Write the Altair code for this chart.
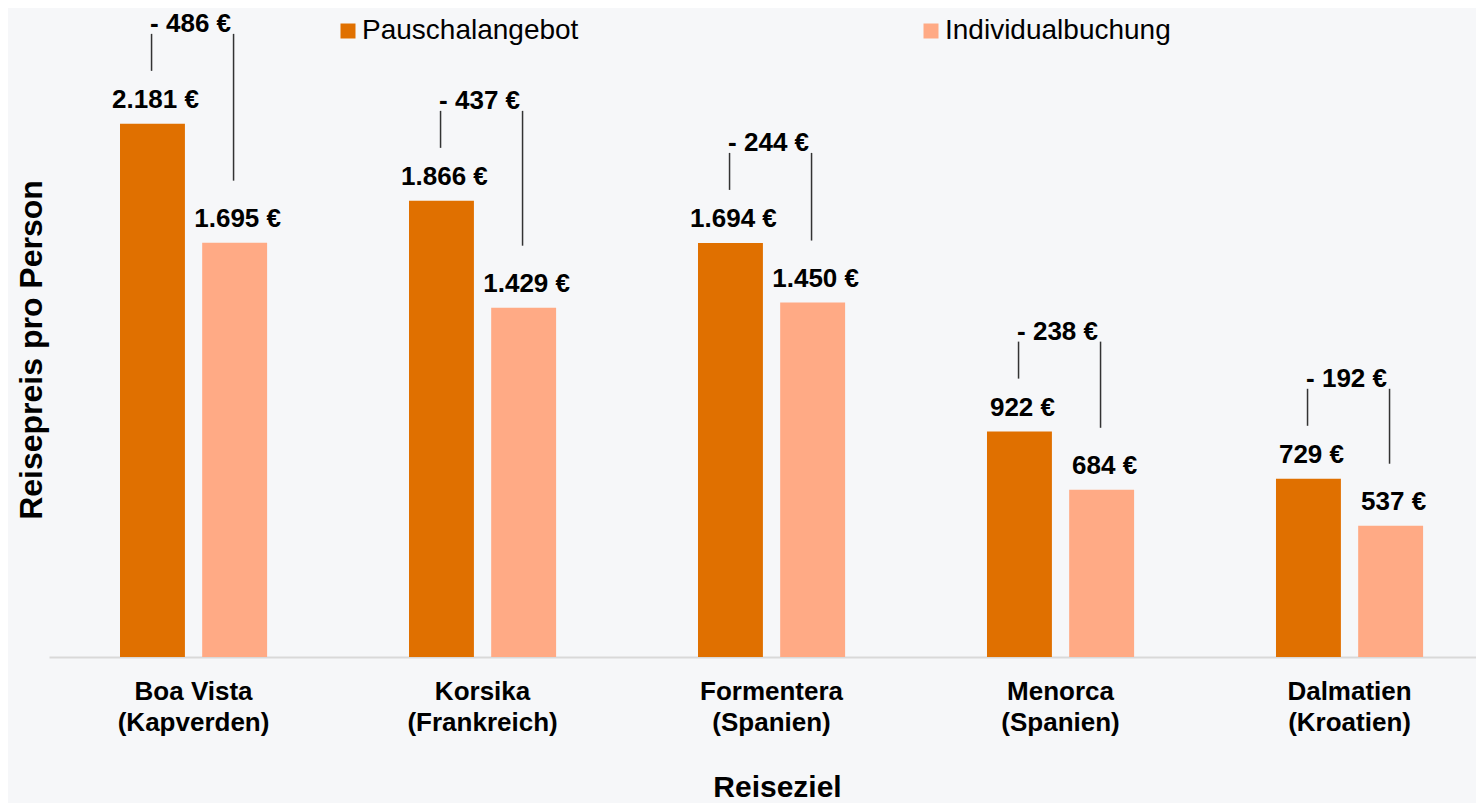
import altair as alt
import pandas as pd

destinations = ["Boa Vista (Kapverden)", "Korsika (Frankreich)", "Formentera (Spanien)",
                "Menorca (Spanien)", "Dalmatien (Kroatien)"]
series = ["Pauschalangebot", "Individualbuchung"]
pauschal = [2181, 1866, 1694, 922, 729]
individual = [1695, 1429, 1450, 684, 537]
colors = ["#e07000", "#ffaa85"]

FONT = "Liberation Sans"
BG = "#f6f7f9"


def eur(v):
    return f"{v:,}".replace(",", ".") + " €"


bars_df = pd.DataFrame({
    "Reiseziel": destinations * 2,
    "Art": [series[0]] * len(destinations) + [series[1]] * len(destinations),
    "Preis": pauschal + individual,
})
bars_df["Label"] = bars_df["Preis"].map(eur)

diff_df = pd.DataFrame({"Reiseziel": destinations, "P": pauschal, "I": individual})
diff_df["Diff"] = [f"- {p - i} €" for p, i in zip(pauschal, individual)]

x_scale = alt.Scale(paddingInner=0.491, paddingOuter=0.2144, align=0.573)
x_axis = alt.Axis(
    title="Reiseziel", labelAngle=0,
    labelExpr="[split(datum.label, ' (')[0], '(' + split(datum.label, ' (')[1]]",
    labelFont=FONT, labelFontSize=26, labelFontWeight="bold", labelColor="#000",
    labelLineHeight=31, labelPadding=21, labelBaseline="top", labelLimit=400,
    ticks=True, tickSize=0, domainColor="#d9d9d9", domainWidth=2, grid=False,
    titleFont=FONT, titleFontSize=30, titleFontWeight="bold", titleColor="#000",
    titleX=728, titleY=139, titleAlign="center", titleBaseline="alphabetic",
)
y_scale = alt.Scale(domain=[0, 2655], nice=False, zero=True)
y_axis = alt.Axis(
    title="Reisepreis pro Person", labels=False, ticks=False, domain=False, grid=False,
    titleFont=FONT, titleFontSize=32, titleFontWeight="bold", titleColor="#000",
    titleAngle=270, titleX=-18, titleY=341.5, titleAlign="center", titleBaseline="middle",
)


def X():
    return alt.X("Reiseziel:N", sort=destinations, scale=x_scale, axis=x_axis)


def Y(field):
    return alt.Y(f"{field}:Q", scale=y_scale, axis=y_axis)


xoff = alt.XOffset("Art:N", sort=series, scale=alt.Scale(paddingInner=0.21, paddingOuter=0))

bars = alt.Chart(bars_df).mark_bar().encode(
    x=X(), xOffset=xoff, y=Y("Preis"),
    color=alt.Color("Art:N", sort=series, scale=alt.Scale(domain=series, range=colors),
                    legend=alt.Legend(orient="none", legendX=285, legendY=9, direction="horizontal",
                                      title=None, symbolType="square", symbolSize=225,
                                      symbolStrokeWidth=0, symbolOpacity=1,
                                      labelFont=FONT, labelFontSize=28, labelColor="#000",
                                      labelOffset=0, columnPadding=338, labelLimit=400, padding=0)),
)

values = alt.Chart(bars_df).mark_text(
    dy=-24, dx=3, baseline="middle", font=FONT, fontSize=26, fontWeight="bold", color="#000"
).encode(x=X(), xOffset=xoff, y=Y("Preis"), text="Label:N")

diff_text = alt.Chart(diff_df).mark_text(
    dy=-100, dx=-3, baseline="middle", font=FONT, fontSize=26, fontWeight="bold", color="#000"
).encode(x=X(), y=Y("P"), text="Diff:N")

left_rule = alt.Chart(diff_df).mark_rule(
    color="#333", strokeWidth=1.5, xOffset=-42, yOffset=-90, y2Offset=-53
).encode(x=X(), y=Y("P"), y2=alt.Y2("P"))

right_rule = alt.Chart(diff_df).mark_rule(
    color="#333", strokeWidth=1.5, xOffset=40, yOffset=-90, y2Offset=-62
).encode(x=X(), y=Y("P"), y2=alt.Y2("I"))

chart = alt.layer(bars, values, left_rule, right_rule, diff_text).properties(
    width=1427, height=649,
    autosize=alt.AutoSizeParams(type="none"),
    padding={"left": 41, "top": 0, "right": 0, "bottom": 146},
    background=BG,
).configure_view(stroke=None)

chart.save("out.html", embed_options={"renderer": "svg", "actions": False})
